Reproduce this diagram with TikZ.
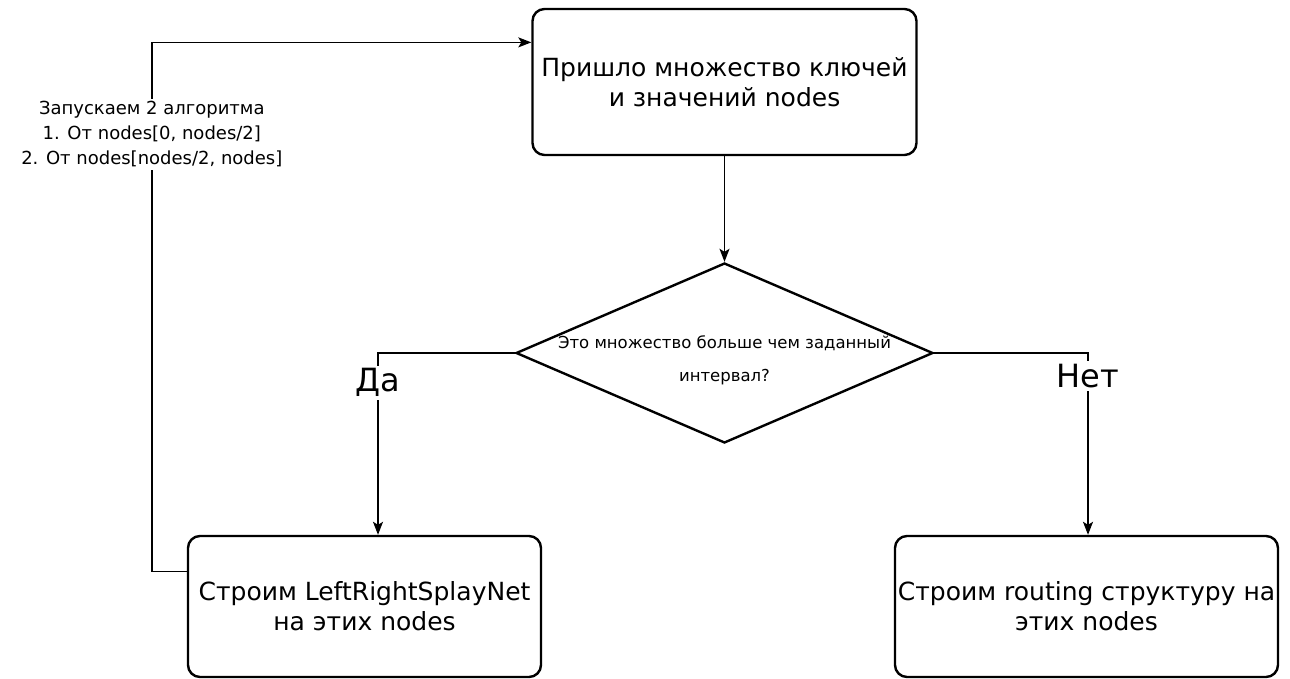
\documentclass[tikz,border=0pt]{standalone}
\usepackage{fontspec}
\setmainfont{DejaVu Sans}
\usetikzlibrary{shapes.geometric,arrows.meta,calc}

\begin{document}
\begin{tikzpicture}[x=1pt,y=-1pt,
  stepbox/.style={draw, line width=2.4pt, rounded corners=12pt, align=center,
    font=\fontsize{25}{30}\selectfont, inner sep=0pt},
  decision/.style={draw, diamond, line width=2.4pt, inner sep=0pt},
  flow/.style={line width=1.5pt, -{Stealth[length=13pt,width=10pt,inset=3pt]}},
  answer/.style={fill=white, font=\fontsize{32}{36}\selectfont, inner sep=3pt},
  loopnote/.style={fill=white, align=center, font=\fontsize{18}{25}\selectfont, inner sep=3pt},
]
\useasboundingbox (0,0) rectangle (1290,679);

% boxes
\node[stepbox, minimum width=384pt, minimum height=146pt] (start) at (724.5,82)
  {Пришло множество ключей\\и значений nodes};
\node[decision, minimum width=417pt, minimum height=180pt,
  label={[align=center, font=\fontsize{16.5}{33}\selectfont, yshift=-7pt]center:Это множество больше чем заданный\\интервал?}]
  (check) at (724.5,353) {};
\node[stepbox, minimum width=353pt, minimum height=141pt] (build) at (364.5,606.5)
  {Строим LeftRightSplayNet\\на этих nodes};
\node[stepbox, minimum width=383pt, minimum height=141pt] (route) at (1086.5,606.5)
  {Строим routing структуру на\\этих nodes};

% connectors
\draw[flow] (start.south) -- (check.north);
\draw[flow] (check.west) -| node[answer, pos=0.582] {Да} ([xshift=13.5pt]build.north);
\draw[flow] (check.east) -| node[answer, pos=0.563] {Нет} ([xshift=1.5pt]route.north);
\draw[flow] ($(build.north west)!0.255!(build.south west)$) -- ++(-35,0)
  |- node[loopnote, pos=0.413] {Запускаем 2 алгоритма\\1. От nodes[0, nodes/2]\\2. От nodes[nodes/2, nodes]}
  ($(start.north west)!0.233!(start.south west)$);
\end{tikzpicture}
\end{document}
